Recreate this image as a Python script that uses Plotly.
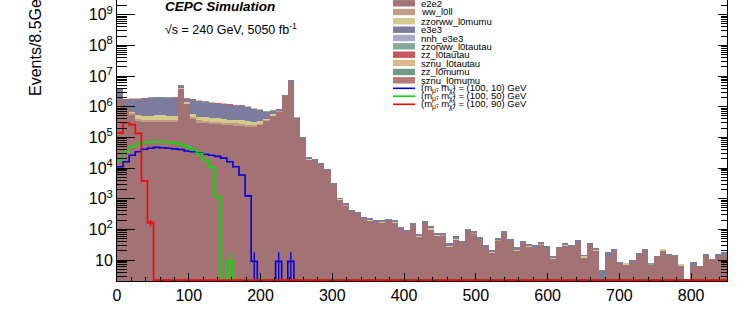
import numpy as np
import plotly.graph_objects as go

# ---------------- data ----------------
BIN_WIDTH = 8.5          # GeV
N_BINS = 100
X_MAX = 850.0
SIGNAL_EVENT_WEIGHT = 9.0  # weight of one MC signal event (sets the stat. error bars)

e2e2 = [
    1.66e6, 1.0e6, 5.6e5, 3.5e5, 3.3e5, 3.3e5, 3.4e5, 3.4e5, 3.3e5, 3.3e5,
    3.8e6, 1.26e6, 4.2e5, 3.16e5, 3.02e5, 2.88e5, 2.82e5, 2.69e5, 2.57e5, 2.51e5,
    2.40e5, 2.29e5, 2.29e5, 2.63e5, 3.55e5, 5.25e5, 7.2e5, 2.24e6, 6.8e6, 4.0e5,
    8.9e4, 1.9e4, 1.7e4, 1.3e4, 8.0e3, 2.9e3, 950, 620, 370, 320,
    225, 195, 175, 170, 195, 170, 105, 85, 140, 58,
    165, 100, 62, 65, 28, 45, 36, 92, 75, 50,
    25, 18, 44, 78, 42, 21, 37, 28, 25, 33,
    26, 11, 24, 30, 27, 39, 12, 32, 21, 0,
    13, 20, 7.8, 7.0, 8.1, 15, 21.5, 7.0, 13, 21,
    15, 13.8, 6.6, 0, 6.4, 6.4, 13.5, 10.5, 13, 15]

ww_l0ll = [
    0, 5e4, 8e4, 4e4, 4e4, 4e4, 4e4, 4e4, 4e4, 4e4,
    3e4, 3e4, 4e4, 4e4, 4e4, 4e4, 3.8e4, 3.6e4, 3.4e4, 3.3e4,
    3.2e4, 3e4, 3e4, 2.5e4, 1.5e4, 1e4, 5e3, 1e4, 2e4, 5e3,
    1e3, 300, 200, 150, 80, 30, 10, 8, 5, 4,
    3, 3, 3, 2, 2, 2, 1, 1, 2, 1,
    1, 2, 1, 1, 0, 1, 0, 1, 1, 0,
    0, 0, 1, 1, 0, 0, 0.5, 0, 0, 0.5,
    0, 0, 0, 0.5, 0, 0, 0, 0.5, 0, 0,
    0, 0, 0, 0, 0, 0, 0, 0, 0, 0,
    0, 0, 0, 0, 0, 0, 0, 0, 0, 0]

zzorww_l0mumu = [
    0, 0, 5e4, 1.3e5, 1.4e5, 1.4e5, 1.4e5, 1.4e5, 1.4e5, 1.4e5,
    1.2e5, 1.0e5, 1.2e5, 1.01e5, 1.05e5, 9.9e4, 9.7e4, 9.3e4, 8.9e4, 8.8e4,
    8.3e4, 8.0e4, 6.5e4, 4.3e4, 2.8e4, 2.7e4, 1.0e4, 2.0e4, 3.0e4, 5e3,
    1.5e3, 500, 400, 300, 150, 60, 20, 15, 8, 8,
    5, 5, 6, 5, 4, 4, 3, 2, 3, 2,
    3, 12, 5, 2, 1, 2, 1, 2, 2, 1,
    1, 0.5, 1, 1, 1, 0.5, 1, 1, 0.5, 1,
    0.5, 1.5, 0.5, 0.5, 0.5, 0.5, 1.5, 0.5, 0.5, 0,
    0, 0.5, 0, 0.8, 0, 0, 0, 0, 0, 1.4,
    0, 0, 0.8, 0, 0, 0, 0, 0, 0, 0]

e3e3 = [
    2.34e6, 6.9e5, 1.17e6, 1.34e6, 1.40e6, 1.49e6, 1.52e6, 1.52e6, 1.49e6, 1.44e6,
    9.0e5, 4.3e5, 1.08e6, 1.12e6, 1.06e6, 9.8e5, 9.0e5, 8.6e5, 8.2e5, 7.5e5,
    7.2e5, 6.6e5, 5.7e5, 4.6e5, 3.1e5, 1.8e5, 7.5e4, 1.3e5, 3.5e5, 2.0e4,
    6.0e3, 2.0e3, 1.2e3, 900, 550, 220, 60, 45, 25, 20,
    17, 16, 9, 11, 15, 12, 9, 8, 15, 6,
    10, 17, 7, 4, 8, 13, 3, 6, 6, 4,
    4, 1.5, 3, 4, 5, 4.5, 2, 2, 6.5, 3,
    2.5, 0.5, 1.5, 2.5, 4.5, 2.5, 1, 2.5, 2.5, 4.7,
    5.6, 1.5, 1.0, 0, 1.9, 0.7, 0.9, 0, 0.5, 0,
    0.4, 0.5, 0, 0, 2.4, 0, 2.2, 0, 2.7, 3.6]

# small backgrounds: only the leading bins that hold entries are listed
nnh_e3e3 = [2e3, 1.5e3, 1.5e3, 1.5e3, 1.5e3, 1.5e3, 1.5e3, 1.5e3, 1.5e3, 1.5e3,
            1.5e3, 1.2e3, 1.2e3, 1.2e3, 1.0e3, 1.0e3, 1.0e3, 900, 900, 800,
            800, 700, 600, 500, 400, 300, 200, 200, 300, 50]
zzorww_l0tautau = [
    800, 600, 600, 600, 600, 600, 600, 600, 500, 500,
    500, 500, 500, 400, 400, 400, 400, 300, 300, 300,
    300, 300, 200, 200, 150, 100, 80, 80, 100, 20,
    5, 2, 1, 1, 0, 0, 0, 0, 0, 0,
    0, 0, 0, 0, 0, 0, 0, 0, 0, 0,
    0, 0, 0, 0, 0, 0, 0, 0, 0, 0,
    0, 0, 0, 0, 0, 0, 0, 0, 0, 0,
    0, 0, 0, 0, 0, 0, 0, 0, 0, 0,
    0, 0, 0, 0, 0, 0, 0, 0.8]
zz_l0tautau = [400, 300, 300, 300, 300, 300, 300, 300, 300, 300,
               300, 250, 250, 250, 200, 200, 200, 200, 150, 150,
               150, 100, 100, 100, 80, 60, 40, 40, 60, 10]
sznu_l0tautau = [300, 250, 250, 250, 250, 250, 250, 200, 200, 200,
                 200, 200, 150, 150, 150, 150, 120, 120, 100, 100,
                 100, 80, 80, 60, 50, 40, 30, 30, 40, 8]
zz_l0mumu = [500, 400, 400, 400, 400, 400, 400, 400, 350, 350,
             350, 300, 300, 300, 300, 250, 250, 250, 200, 200,
             200, 150, 150, 120, 100, 80, 60, 60, 80, 15]
sznu_l0mumu = [400, 300, 300, 300, 300, 300, 300, 300, 300, 250,
               250, 250, 250, 200, 200, 200, 200, 150, 150, 150,
               120, 120, 100, 100, 80, 60, 50, 50, 60, 10]

# signals  (m_smuon, m_neutralino) = (100, X) GeV
sig_100_10 = [
    1.1e4, 1.6e4, 2.6e4, 3.4e4, 4.1e4, 4.4e4, 4.7e4, 4.6e4, 4.4e4, 4.2e4,
    4.0e4, 3.6e4, 3.4e4, 3.0e4, 2.8e4, 2.6e4, 2.4e4, 2.1e4, 1.6e4, 1.1e4,
    5.9e3, 1.23e3, 9, 0, 0, 0, 9, 0, 9, 0,
    0, 0, 0, 0, 0, 0, 0, 0, 0, 0,
    0, 0, 0, 0, 0, 0, 0, 0, 0, 0,
    0, 0, 0, 0, 0, 0, 0, 0, 0, 0,
    0, 0, 0, 0, 0, 0, 0, 0, 0, 0,
    0, 0, 0, 0, 0, 0, 0, 0, 0, 0,
    0, 0, 0, 0, 0, 0, 0, 0, 0, 0,
    0, 0, 0, 0, 0, 0, 0, 0, 0, 0]
sig_100_50 = [
    1.8e4, 3.4e4, 5.0e4, 6.0e4, 6.8e4, 7.1e4, 7.2e4, 7.2e4, 6.9e4, 6.5e4,
    5.8e4, 4.9e4, 3.9e4, 2.9e4, 1.8e4, 1.05e4, 1.15e3, 0, 9, 0,
    0, 0, 0, 0, 0, 0, 0, 0, 0, 0,
    0, 0, 0, 0, 0, 0, 0, 0, 0, 0,
    0, 0, 0, 0, 0, 0, 0, 0, 0, 0,
    0, 0, 0, 0, 0, 0, 0, 0, 0, 0,
    0, 0, 0, 0, 0, 0, 0, 0, 0, 0,
    0, 0, 0, 0, 0, 0, 0, 0, 0, 0,
    0, 0, 0, 0, 0, 0, 0, 0, 0, 0,
    0, 0, 0, 0, 0, 0, 0, 0, 0, 0]
sig_100_90 = [
    1.4e5, 3.0e5, 2.6e5, 1.35e5, 3.8e3, 165, 0, 0, 0, 0,
    0, 0, 0, 0, 0, 0, 0, 0, 0, 0,
    0, 0, 0, 0, 0, 0, 0, 0, 0, 0,
    0, 0, 0, 0, 0, 0, 0, 0, 0, 0,
    0, 0, 0, 0, 0, 0, 0, 0, 0, 0,
    0, 0, 0, 0, 0, 0, 0, 0, 0, 0,
    0, 0, 0, 0, 0, 0, 0, 0, 0, 0,
    0, 0, 0, 0, 0, 0, 0, 0, 0, 0,
    0, 0, 0, 0, 0, 0, 0, 0, 0, 0,
    0, 0, 0, 0, 0, 0, 0, 0, 0, 0]

x_tick_values = [0, 100, 200, 300, 400, 500, 600, 700, 800]
y_tick_exponents = [1, 2, 3, 4, 5, 6, 7, 8, 9]

backgrounds = [  # bottom of the stack first
    ("e2e2", e2e2, "#a27274"),
    ("ww_l0ll", ww_l0ll, "#c39c86"),
    ("zzorww_l0mumu", zzorww_l0mumu, "#d5ca8c"),
    ("e3e3", e3e3, "#7c7c9f"),
    ("nnh_e3e3", nnh_e3e3, "#aaa9c9"),
    ("zzorww_l0tautau", zzorww_l0tautau, "#84a89b"),
    ("zz_l0tautau", zz_l0tautau, "#c9565d"),
    ("sznu_l0tautau", sznu_l0tautau, "#dcba8d"),
    ("zz_l0mumu", zz_l0mumu, "#729887"),
    ("sznu_l0mumu", sznu_l0mumu, "#b57a74"),
]
signals = [
    ("(m<sub>μ̃</sub>, m<sub>χ̃</sub>) = (100, 10) GeV", sig_100_10, "#0000e0"),
    ("(m<sub>μ̃</sub>, m<sub>χ̃</sub>) = (100, 50) GeV", sig_100_50, "#00e000"),
    ("(m<sub>μ̃</sub>, m<sub>χ̃</sub>) = (100, 90) GeV", sig_100_90, "#ff0000"),
]

# ---------------- figure ----------------
W, H = 744, 319
ML, MR, MT, MB = 117, 17, 0, 38
PW, PH = W - ML - MR, H - MT - MB
Y_LOG_RANGE = [0.315, 9.48]
FONT = "Liberation Sans, Arial, Helvetica, sans-serif"

edges = np.arange(N_BINS + 1) * BIN_WIDTH
centers = edges[:-1] + BIN_WIDTH / 2
floor = 10 ** (Y_LOG_RANGE[0] + 0.03)   # empty bins are drawn on the axis floor

fig = go.Figure()
for name, vals, color in backgrounds:
    fig.add_trace(go.Bar(
        x=centers[:len(vals)], y=vals, width=BIN_WIDTH, name=name,
        marker=dict(color=color, line=dict(width=0)), showlegend=False))

for name, vals, color in signals:
    v = np.asarray(vals, dtype=float)
    ystep = np.maximum(np.append(v, v[-1]), floor)
    fig.add_trace(go.Scatter(
        x=edges, y=ystep, mode="lines", name=name,
        line=dict(color=color, width=1.6, shape="hv"), showlegend=False))
    nz = v > 0
    fig.add_trace(go.Scatter(
        x=centers[nz], y=v[nz], mode="markers",
        marker=dict(size=1, opacity=0, color=color),
        error_y=dict(type="data", array=np.sqrt(v[nz] * SIGNAL_EVENT_WEIGHT),
                     color=color, thickness=1.4, width=0),
        showlegend=False, hoverinfo="skip"))

# right-hand y axis (ticks only), ROOT style
fig.add_trace(go.Scatter(x=[], y=[], yaxis="y2", showlegend=False))

minor_y = [k * 10 ** d for d in range(0, 10) for k in range(2, 10)]

fig.update_layout(
    width=W, height=H,
    margin=dict(l=ML, r=MR, t=MT, b=MB, pad=0),
    paper_bgcolor="white", plot_bgcolor="white",
    barmode="stack", bargap=0,
    font=dict(family=FONT, color="black"),
    xaxis=dict(
        range=[0, X_MAX], showgrid=False, zeroline=False,
        showline=True, linecolor="black", linewidth=1,
        tickmode="array", tickvals=x_tick_values,
        ticks="inside", ticklen=8, tickcolor="black", tickwidth=1,
        minor=dict(dtick=20, tick0=0, ticks="inside", ticklen=4,
                   tickcolor="black", showgrid=False),
        tickfont=dict(size=16, family=FONT)),
    yaxis=dict(
        type="log", range=Y_LOG_RANGE, showgrid=False, zeroline=False,
        showline=True, linecolor="black", linewidth=1,
        tickmode="array",
        tickvals=[10 ** e for e in y_tick_exponents],
        ticktext=["10" if e == 1 else f"10<sup>{e}</sup>" for e in y_tick_exponents],
        ticks="inside", ticklen=18, tickcolor="black", tickwidth=1,
        minor=dict(tickmode="array", tickvals=minor_y, ticks="inside",
                   ticklen=10, tickcolor="black", showgrid=False),
        tickfont=dict(size=16, family=FONT)),
    yaxis2=dict(
        type="log", range=Y_LOG_RANGE, overlaying="y", side="right", anchor="x",
        showgrid=False, zeroline=False, showticklabels=False,
        showline=True, linecolor="black", linewidth=1,
        tickmode="array", tickvals=[10 ** e for e in y_tick_exponents],
        ticks="inside", ticklen=9, tickcolor="black",
        minor=dict(tickmode="array", tickvals=minor_y, ticks="inside",
                   ticklen=6, tickcolor="black", showgrid=False)),
)


def px_x(px):
    return (px - ML) / PW


def px_y(py):
    return (H - MB - py) / PH


annotations = [
    dict(text="<b><i>CEPC Simulation</i></b>", x=px_x(163), y=px_y(-2.5),
         xanchor="left", yanchor="top", font=dict(size=13.5)),
    dict(text="√s = 240 GeV, 5050 fb<sup>-1</sup>", x=px_x(163), y=px_y(19),
         xanchor="left", yanchor="top", font=dict(size=12.5)),
    dict(text="Events/8.5GeV", textangle=-90, x=px_x(35), y=px_y(98),
         xanchor="center", yanchor="bottom", font=dict(size=16)),
]

shapes = []
row_y = [3.3, 12, 21.2, 29.7, 38, 46.3, 54.7, 63, 72, 80.3]
for (name, _, color), yc in zip(backgrounds, row_y):
    shapes.append(dict(type="rect", xref="paper", yref="paper",
                       x0=px_x(393), x1=px_x(415), y0=px_y(yc + 3.2), y1=px_y(yc - 3.2),
                       fillcolor=color, line=dict(width=0)))
    annotations.append(dict(text=name, x=px_x(419), y=px_y(yc), xanchor="left",
                            yanchor="middle", font=dict(size=9.5)))
sig_row_y = [88.3, 96.2, 104.3]
for (name, _, color), yc in zip(signals, sig_row_y):
    shapes.append(dict(type="line", xref="paper", yref="paper",
                       x0=px_x(393), x1=px_x(415), y0=px_y(yc), y1=px_y(yc),
                       line=dict(color=color, width=1.6)))
    annotations.append(dict(text=name, x=px_x(419), y=px_y(yc), xanchor="left",
                            yanchor="middle", font=dict(size=9.5)))

for a in annotations:
    a.update(xref="paper", yref="paper", showarrow=False)
fig.update_layout(annotations=annotations, shapes=shapes)

# remove the browser's default 8px page margin so the figure sits at (0, 0)
fig.write_html(
    "out.html",
    config={"displayModeBar": False},
    post_script="document.body.style.margin='0';document.body.style.overflow='hidden';",
)
